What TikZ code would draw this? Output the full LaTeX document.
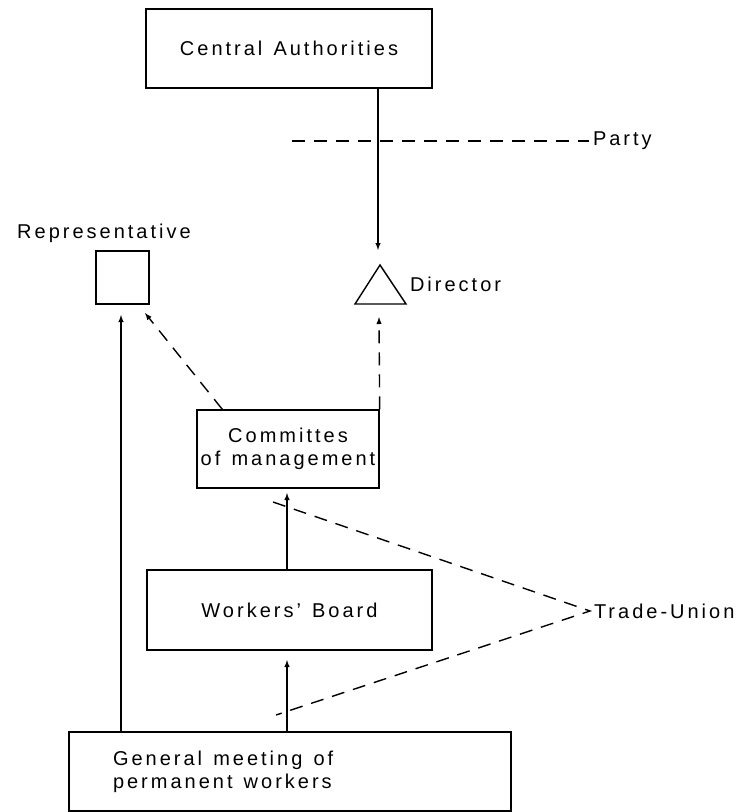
\documentclass[tikz,border=0pt]{standalone}
\usepackage{fontspec}
\setmainfont{Liberation Sans}[LetterSpace=15,WordSpace=1.3]

\begin{document}
\begin{tikzpicture}[x=1pt,y=-1pt,>=latex,line width=1.4pt,font=\fontsize{20}{23}\selectfont,
  box/.style={draw,inner sep=0pt,align=center},
  dashline/.style={dash pattern=on 13pt off 9pt}]
\useasboundingbox (0,0) rectangle (740,812);
\node[box,minimum width=286pt,minimum height=79pt] (central) at (289,48.5) {Central Authorities};
\node[anchor=west] (party) at (589,141) {Party};
\coordinate (partystart) at (292,141);
\draw[dashline] (partystart) -- (party.west);
\draw (355,304) coordinate (dirL) -- (380,265) coordinate (dirtop) -- (406,304) coordinate (dirR) -- cycle;
\node[anchor=west] (director) at (406,284) {Director};
\coordinate (dirhead) at (378,250);
\draw[->] (central.south -| dirhead) -- (dirhead);
\node (replabel) at (104,233) {Representative};
\node[box,minimum size=53pt] (rep) at (122.5,277.5) {};
\node[box,minimum width=182pt,minimum height=78pt] (com) at (288,449) {Committes\\of management};
\node[box,minimum width=285pt,minimum height=80pt] (board) at (289.5,610) {Workers’ Board};
\node[box,align=flush left,text width=354pt,inner xsep=44pt,minimum height=79pt] (meeting) at (290,771.5) {General meeting of\\permanent workers};
\node[anchor=west] (trade) at (590,611) {Trade-Union};
\coordinate (repfoot) at (121,315);
\coordinate (repcorner) at (145,313);
\coordinate (dirfoot) at (379,317);
\coordinate (comfoot) at (287,493);
\coordinate (boardfoot) at (287,660);
\coordinate (tuA) at (273,502);
\coordinate (tuB) at (276,715);
\draw[->] (meeting.north -| repfoot) -- (repfoot);
\draw[->,dashline] ([xshift=26pt]com.north west) -- (repcorner);
\draw[->,dashline] (com.north east) -- (dirfoot);
\draw[->] (board.north -| comfoot) -- (comfoot);
\draw[->] (meeting.north -| boardfoot) -- (boardfoot);
\draw[dashline] (tuA) -- (trade.west) -- (tuB);
\end{tikzpicture}
\end{document}
